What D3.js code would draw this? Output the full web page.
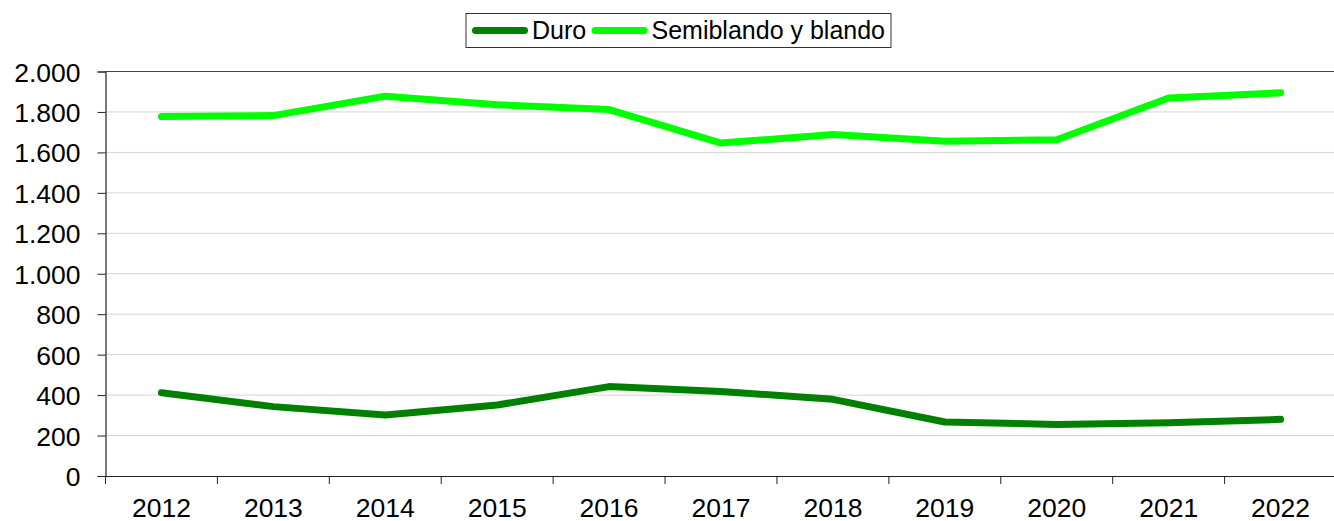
<!DOCTYPE html>
<html>
<head>
<meta charset="utf-8">
<script src="https://cdn.jsdelivr.net/npm/d3@7"></script>
<style>
  body { margin: 0; background: #fff; }
  svg { display: block; font-family: "Liberation Sans", Arial, sans-serif; }
</style>
</head>
<body>
<svg id="chart" width="1334" height="521"></svg>
<script>
var years = ["2012", "2013", "2014", "2015", "2016", "2017", "2018", "2019", "2020", "2021", "2022"];
var duro = [412, 343, 302, 351, 442, 418, 379, 267, 255, 263, 280];
var semiblando = [1777, 1782, 1878, 1836, 1812, 1646, 1688, 1655, 1663, 1869, 1895];
var yTicks = [0, 200, 400, 600, 800, 1000, 1200, 1400, 1600, 1800, 2000];
var seriesNames = ["Duro", "Semiblando y blando"];
var seriesColors = ["#008000", "#00ff00"];

var margin = {top: 71.5, left: 105.5},
    width = 1231,
    height = 404.5;

var svg = d3.select("#chart");
var g = svg.append("g")
    .attr("transform", "translate(" + margin.left + "," + margin.top + ")");

var x = d3.scaleBand().domain(years).range([0, width]);
var y = d3.scaleLinear().domain([0, 2000]).range([height, 0]);

var es = d3.formatLocale({decimal: ",", thousands: ".", grouping: [3], currency: ["", "€"]});
var fmt = es.format(",d");

// gridlines
g.selectAll("line.grid")
    .data(yTicks.filter(function(d) { return d > 0 && d < 2000; }))
    .enter().append("line")
    .attr("class", "grid")
    .attr("x1", 0).attr("x2", width)
    .attr("y1", function(d) { return y(d); })
    .attr("y2", function(d) { return y(d); })
    .attr("stroke", "#d4d4d4")
    .attr("stroke-width", 1);

// top border
g.append("line")
    .attr("x1", 0).attr("x2", width)
    .attr("y1", 0).attr("y2", 0)
    .attr("stroke", "#444").attr("stroke-width", 1.2);

// y axis
var yAxis = g.append("g")
    .call(d3.axisLeft(y).tickValues(yTicks).tickFormat(fmt).tickSize(8).tickPadding(17));
yAxis.select(".domain").attr("stroke", "#222").attr("stroke-width", 1.2);
yAxis.selectAll(".tick line").attr("stroke", "#222");
yAxis.selectAll("text").attr("font-size", 26.5).attr("fill", "#000")
    .attr("dy", "0.36em")
    .attr("font-family", "Liberation Sans, Arial, sans-serif");

// x axis with ticks at band edges
var xAxis = g.append("g")
    .attr("transform", "translate(0," + height + ")")
    .call(d3.axisBottom(x).tickSize(0));
xAxis.select(".domain").attr("stroke", "#222").attr("stroke-width", 1.2);
xAxis.selectAll("text").attr("font-size", 26.5).attr("fill", "#000")
    .attr("y", 40.5).attr("dy", 0)
    .attr("font-family", "Liberation Sans, Arial, sans-serif");
xAxis.selectAll("line.edge")
    .data(years)
    .enter().append("line")
    .attr("class", "edge")
    .attr("x1", function(d) { return x(d); })
    .attr("x2", function(d) { return x(d); })
    .attr("y1", 0).attr("y2", 8)
    .attr("stroke", "#222");

// lines
var line = d3.line()
    .x(function(d, i) { return x(years[i]) + x.bandwidth() / 2; })
    .y(function(d) { return y(d); });

[duro, semiblando].forEach(function(s, i) {
    g.append("path")
        .datum(s)
        .attr("fill", "none")
        .attr("stroke", seriesColors[i])
        .attr("stroke-width", 7)
        .attr("stroke-linecap", "round")
        .attr("stroke-linejoin", "round")
        .attr("d", line);
});

// legend
var legend = svg.append("g").attr("transform", "translate(466,13.5)");
legend.append("rect")
    .attr("x", 0).attr("y", 0)
    .attr("width", 425).attr("height", 34)
    .attr("fill", "#fff").attr("stroke", "#333").attr("stroke-width", 1);

var legendX = [9.5, 129];
seriesNames.forEach(function(name, i) {
    var lg = legend.append("g").attr("transform", "translate(" + legendX[i] + ",0)");
    lg.append("line")
        .attr("x1", 0).attr("x2", 49)
        .attr("y1", 17).attr("y2", 17)
        .attr("stroke", seriesColors[i])
        .attr("stroke-width", 7)
        .attr("stroke-linecap", "round");
    lg.append("text")
        .attr("x", 56.5).attr("y", 25.5)
        .attr("font-size", 25)
        .attr("fill", "#000")
        .text(name);
});
</script>
</body>
</html>
